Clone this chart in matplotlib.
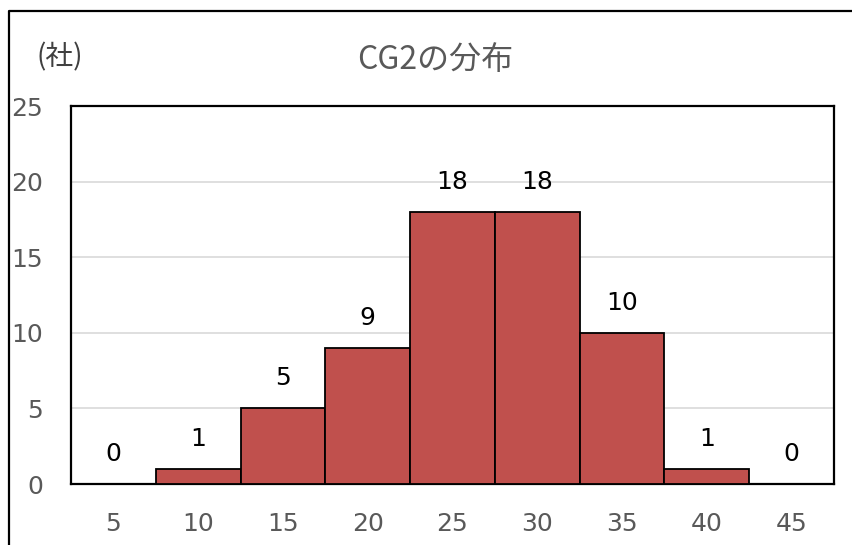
import matplotlib.pyplot as plt
from matplotlib.lines import Line2D

# histogram of CG2 (number of companies per bin)
bins = ["5", "10", "15", "20", "25", "30", "35", "40", "45"]
counts = [0, 1, 5, 9, 18, 18, 10, 1, 0]
yticks = [0, 5, 10, 15, 20, 25]

plt.rcParams['font.family'] = ['DejaVu Sans', 'Noto Sans CJK JP']
jp = ['Noto Sans CJK JP', 'DejaVu Sans']

fig = plt.figure(figsize=(8.53, 5.45), dpi=100)
ax = fig.add_axes([71 / 853, 1 - 484 / 545, (834 - 71) / 853, (484 - 106) / 545])

x = list(range(len(bins)))
bars = ax.bar(x, counts, width=1.0, color="#C0504D", edgecolor="black",
              linewidth=1.3, zorder=3)
ax.bar_label(bars, labels=[str(c) for c in counts], padding=13,
             fontsize=18, color="black")

ax.set_xlim(-0.5, len(bins) - 0.5)
ax.set_ylim(0, 25)
ax.set_xticks(x)
ax.set_xticklabels(bins)
ax.set_yticks(yticks)
ax.tick_params(axis='x', length=0, pad=20, labelsize=18, colors="#595959")
ax.tick_params(axis='y', length=0, pad=20, labelsize=18, colors="#595959")
ax.yaxis.grid(True, color="#D9D9D9", linewidth=1.2, zorder=0)
ax.set_axisbelow(True)
for side in ax.spines.values():
    side.set_color("black")
    side.set_linewidth(1.6)

fig.text(435 / 853, 1 - 60 / 545, "CG2の分布", fontsize=23, color="#595959",
         ha="center", va="center", family=jp)
fig.text(60 / 853, 1 - 57 / 545, "(社)", fontsize=20, color="#404040",
         ha="center", va="center", family=jp)

# outer chart frame (cropped on the right and bottom)
fig.add_artist(Line2D([9 / 853, 9 / 853, 1.0], [-0.01, 1 - 11 / 545, 1 - 11 / 545],
                      color="black", linewidth=1.6, transform=fig.transFigure))

fig.savefig("out.png", dpi=100)
